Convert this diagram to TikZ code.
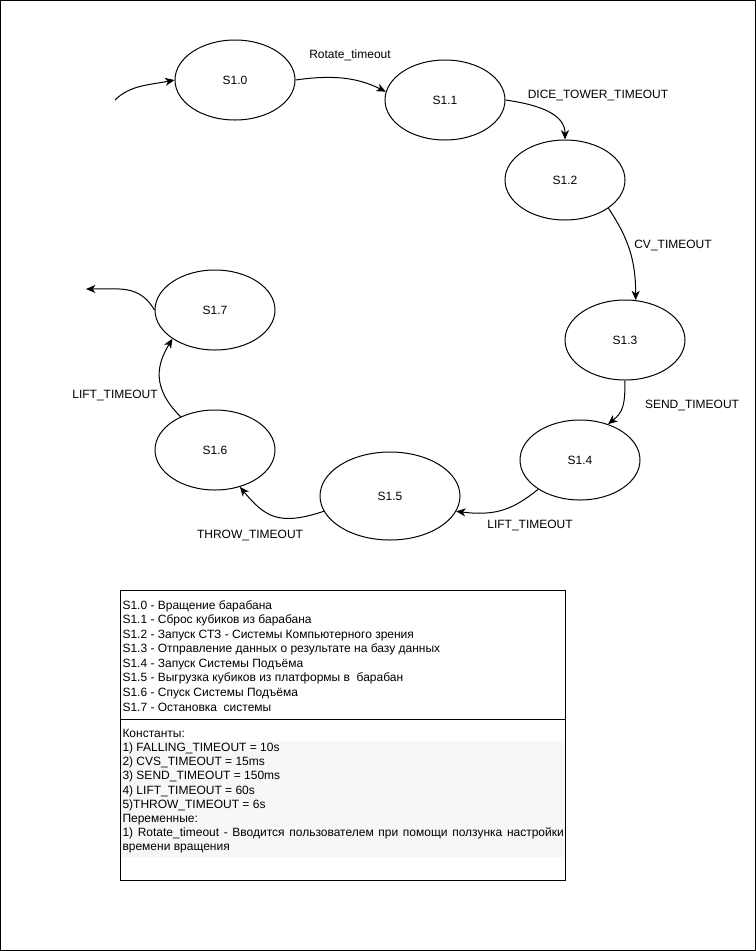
\documentclass[tikz,border=0pt]{standalone}
\usepackage{fontspec}
\setmainfont{Liberation Sans}
\usetikzlibrary{shapes.geometric,arrows.meta}
\tikzset{
  stnode/.style={ellipse,draw,minimum width=90pt,minimum height=60pt,inner sep=0pt},
  trans/.style={-{Stealth[length=7pt,width=6pt,inset=2pt]}},
  lbl/.style={inner sep=0pt}
}
\begin{document}
\begin{tikzpicture}[x=0.75pt,y=-0.75pt,line width=0.75pt,font=\fontsize{9}{11}\selectfont]
    \useasboundingbox (0,0) rectangle (756,951);
    \draw[line width=1.2pt] (0.6,0.6) rectangle (755.4,950.4);
    \foreach \n/\x/\y in {0/235/80,1/445/100,2/565/180,3/625/340,4/580/460,6/215/450,7/215/310}{
        \node[stnode] at (\x,\y) (s\n) {S1.\n};
    }
        \node[stnode,minimum width=105pt,minimum height=66pt] at (390,496) (s5) {S1.5};
        \coordinate (start) at (115,100);
        \coordinate (stop) at (86,289);
        \draw[trans] (start) .. controls +(15,-15) and +(-25,5) .. (s0.west);
        \draw[trans] (s0.east) .. controls +(35,-5) and +(-30,-15) .. (s1.172);
        \draw[trans] (s1.east) .. controls +(35,5) and +(0,-25) .. (s2.north);
        \draw[trans] (s2.-33) .. controls +(20,30) and +(0,-40) .. (s3.75);
        \draw[trans] (s3.south) .. controls +(0,25) and +(15,-12) .. (s4.52);
        \draw[trans] (s4.215) .. controls +(-25,20) and +(40,5) .. (s5.-13);
        \draw[trans] (s5.193) .. controls +(-45,15) and +(25,30) .. (s6.-56);
        \draw[trans] (s6.136) .. controls +(-30,-30) and +(-15,25) .. (s7.214);
        \draw[trans] (s7.west) .. controls +(-15,-25) and +(35,0) .. (stop);
        \node[lbl] at (350,55) (rot) {Rotate\_timeout};
        \node[lbl] at (598,95) (dice) {DICE\_TOWER\_TIMEOUT};
        \node[lbl] at (673,245) (cv) {CV\_TIMEOUT};
        \node[lbl] at (692,405) (send) {SEND\_TIMEOUT};
        \node[lbl] at (530,525) (liftb) {LIFT\_TIMEOUT};
        \node[lbl] at (250,535) (throw) {THROW\_TIMEOUT};
        \node[lbl] at (115,395) (liftl) {LIFT\_TIMEOUT};
    \fill[black!3] (121,741) rectangle (564.5,857);
    \draw (120,590) rectangle (565,880);
    \draw (120,719) -- (565,719);
        \node[lbl,anchor=north west,align=left,font=\fontsize{9}{10.9}\selectfont] at (122,600) (legend) {S1.0 - Вращение барабана\\
        S1.1 - Сброс кубиков из барабана\\
        S1.2 - Запуск СТЗ - Системы Компьютерного зрения\\
        S1.3 - Отправление данных о результате на базу данных\\
        S1.4 - Запуск Системы Подъёма\\
        S1.5 - Выгрузка кубиков из платформы в~ барабан\\
        S1.6 - Спуск Системы Подъёма\\
        S1.7 - Остановка~ системы};
        \node[lbl,anchor=north west,align=left,font=\fontsize{9}{10.55}\selectfont] at (122,729) (consts) {Константы:\\
        1) FALLING\_TIMEOUT = 10s\\
        2) CVS\_TIMEOUT = 15ms\\
        3) SEND\_TIMEOUT = 150ms\\
        4) LIFT\_TIMEOUT = 60s\\
        5)THROW\_TIMEOUT = 6s\\
        Переменные:\\
        \hbox to 331pt{1) Rotate\_timeout - Вводится пользователем при помощи ползунка настройки}\\
        времени вращения};
\end{tikzpicture}
\end{document}
